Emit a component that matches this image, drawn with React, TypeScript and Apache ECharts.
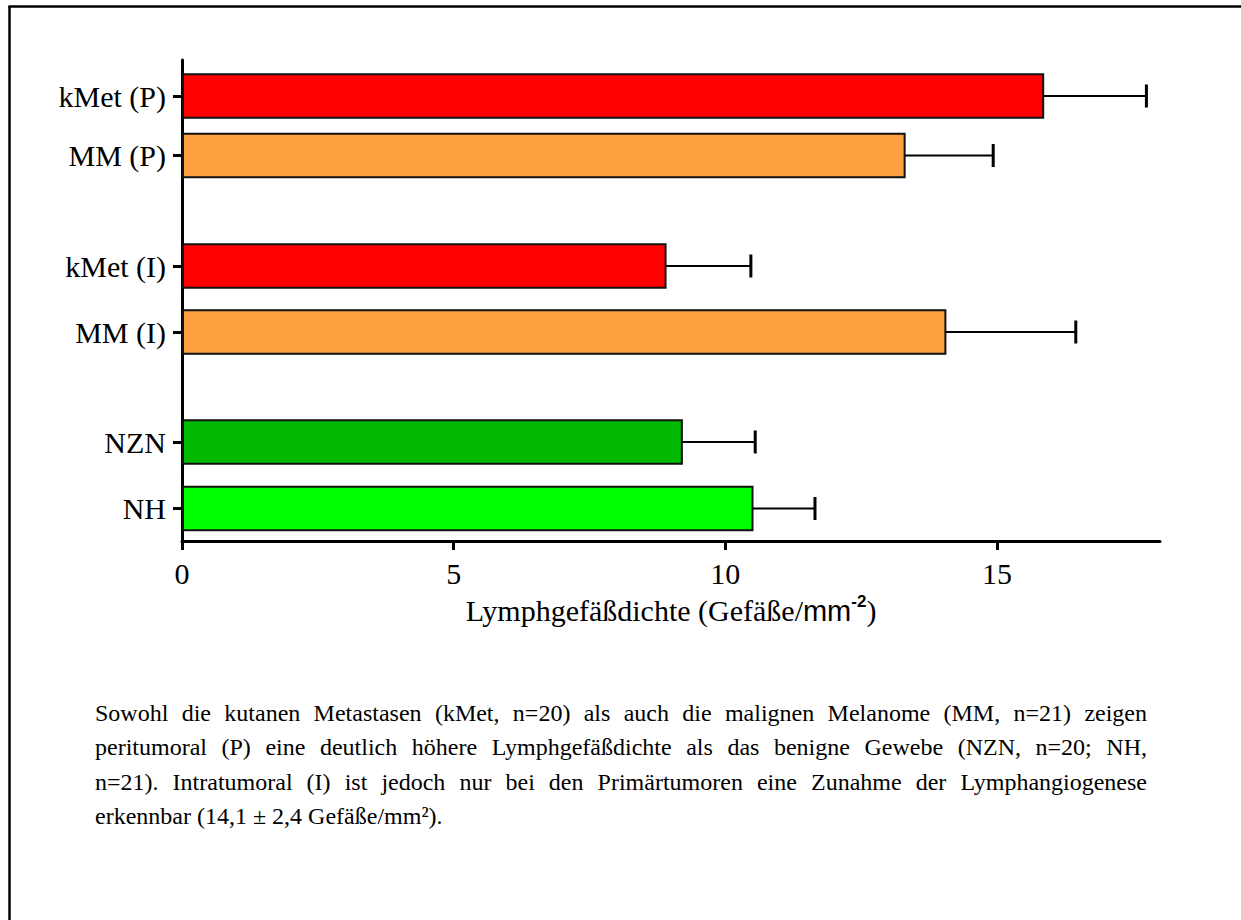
import React, { useEffect, useRef } from 'react';
import * as echarts from 'echarts';

const categories = ['kMet (P)', 'MM (P)', 'kMet (I)', 'MM (I)', 'NZN', 'NH'];
const means = [15.85, 13.3, 8.9, 14.05, 9.2, 10.5];
const sems = [1.9, 1.63, 1.57, 2.4, 1.35, 1.15];
// row positions on the (inverse) vertical value axis, 0..48.1
const rowPositions = [3.6, 9.55, 20.6, 27.2, 38.2, 44.85];
const barColors = ['#FF0000', '#FFA040', '#FF0000', '#FFA040', '#00B800', '#00FF00'];
const xTicks = [0, 5, 10, 15];
const xMax = 18;
const yMax = 48.1;

const captionLines = [
  'Sowohl die kutanen Metastasen (kMet, n=20) als auch die malignen Melanome (MM, n=21) zeigen',
  'peritumoral (P) eine deutlich höhere Lymphgefäßdichte als das benigne Gewebe (NZN, n=20; NH,',
  'n=21). Intratumoral (I) ist jedoch nur bei den Primärtumoren eine Zunahme der Lymphangiogenese',
  'erkennbar (14,1 ± 2,4 Gefäße/mm²).',
];

const SERIF = 'Liberation Serif';

export default function App() {
  const ref = useRef<HTMLDivElement>(null);
  useEffect(() => {
    if (!ref.current) return;
    const chart = echarts.init(ref.current, null, { renderer: 'svg' });

    // caption layout (justified lines)
    const capSize = 24;
    const capLeft = 95;
    const capWidth = 1052;
    const capTop = 713;
    const capPitch = 34.4;
    const canvas = document.createElement('canvas');
    const ctx = canvas.getContext('2d') as CanvasRenderingContext2D;
    ctx.font = `${capSize}px "${SERIF}"`;
    const captionEls: any[] = [];
    captionLines.forEach((line, li) => {
      const y = capTop + li * capPitch;
      const justify = li < captionLines.length - 1;
      if (!justify) {
        captionEls.push({
          type: 'text', x: capLeft, y,
          style: { text: line, fontSize: capSize, fontFamily: SERIF, fill: '#000', verticalAlign: 'middle', align: 'left' },
        });
        return;
      }
      const words = line.split(' ');
      const widths = words.map((w) => ctx.measureText(w).width);
      const total = widths.reduce((a, b) => a + b, 0);
      const gap = (capWidth - total) / (words.length - 1);
      let x = capLeft;
      words.forEach((w, i) => {
        captionEls.push({
          type: 'text', x, y,
          style: { text: w, fontSize: capSize, fontFamily: SERIF, fill: '#000', verticalAlign: 'middle', align: 'left' },
        });
        x += widths[i] + gap;
      });
    });

    const data = categories.map((c, i) => [rowPositions[i], means[i], sems[i], i]);

    const option: any = {
      animation: false,
      backgroundColor: '#ffffff',
      grid: { left: 182, right: 81, top: 60, bottom: 379, containLabel: false, outerBoundsMode: 'none' },
      xAxis: {
        type: 'value',
        min: 0,
        max: xMax,
        splitLine: { show: false },
        axisLine: { show: true, onZero: false, lineStyle: { color: '#000', width: 3 } },
        axisTick: { show: true, customValues: xTicks, length: 9, lineStyle: { color: '#000', width: 3 } },
        axisLabel: {
          customValues: xTicks,
          color: '#000',
          fontFamily: SERIF,
          fontSize: 30,
          margin: 17,
        },
        name: '{a|Lymphgefäßdichte (Gefäße/}{b|mm}{c|-2}{a|)}',
        nameLocation: 'middle',
        nameGap: 45,
        nameTextStyle: {
          rich: {
            a: { fontFamily: SERIF, fontSize: 30, color: '#000', lineHeight: 36 },
            b: { fontFamily: 'Liberation Sans', fontSize: 29, color: '#000', lineHeight: 36 },
            c: { fontFamily: 'Liberation Sans', fontSize: 17, fontWeight: 'bold', color: '#000', verticalAlign: 'top', lineHeight: 36, padding: [0, 0, 14, 0] },
          },
        },
      },
      yAxis: {
        type: 'value',
        inverse: true,
        min: 0,
        max: yMax,
        splitLine: { show: false },
        axisLine: { show: true, onZero: false, lineStyle: { color: '#000', width: 3 } },
        axisTick: { show: true, customValues: rowPositions, length: 9, lineStyle: { color: '#000', width: 3 } },
        axisLabel: {
          customValues: rowPositions,
          color: '#000',
          fontFamily: SERIF,
          fontSize: 30,
          margin: 16,
          formatter: (v: number) => {
            let best = 0;
            rowPositions.forEach((p, i) => {
              if (Math.abs(p - v) < Math.abs(rowPositions[best] - v)) best = i;
            });
            return categories[best];
          },
        },
      },
      series: [
        {
          type: 'custom',
          coordinateSystem: 'cartesian2d',
          encode: { x: 1, y: 0 },
          data,
          renderItem: (params: any, api: any) => {
            const yv = api.value(0);
            const v = api.value(1);
            const e = api.value(2);
            const idx = api.value(3);
            const p0 = api.coord([0, yv]);
            const p1 = api.coord([v, yv]);
            const p2 = api.coord([v + e, yv]);
            const h = Math.abs(api.size([0, 4.35])[1]);
            const capH = Math.abs(api.size([0, 2.3])[1]);
            return {
              type: 'group',
              children: [
                {
                  type: 'rect',
                  shape: { x: p0[0] + 1, y: p1[1] - h / 2, width: p1[0] - p0[0] - 1, height: h },
                  style: { fill: barColors[idx], stroke: '#111', lineWidth: 2 },
                },
                {
                  type: 'line',
                  shape: { x1: p1[0], y1: p1[1], x2: p2[0], y2: p2[1] },
                  style: { stroke: '#000', lineWidth: 2 },
                },
                {
                  type: 'line',
                  shape: { x1: p2[0], y1: p2[1] - capH / 2, x2: p2[0], y2: p2[1] + capH / 2 },
                  style: { stroke: '#000', lineWidth: 3 },
                },
              ],
            };
          },
        },
      ],
      graphic: [
        { type: 'line', shape: { x1: 8.5, y1: 6.5, x2: 1241, y2: 6.5 }, style: { stroke: '#000', lineWidth: 2.5 } },
        { type: 'line', shape: { x1: 9.5, y1: 6, x2: 9.5, y2: 920 }, style: { stroke: '#000', lineWidth: 2.5 } },
        ...captionEls,
      ],
    };
    chart.setOption(option);
    return () => chart.dispose();
  }, []);
  return <div ref={ref} style={{ position: 'fixed', left: 0, top: 0, width: 1241, height: 920, background: '#fff' }} />;
}
